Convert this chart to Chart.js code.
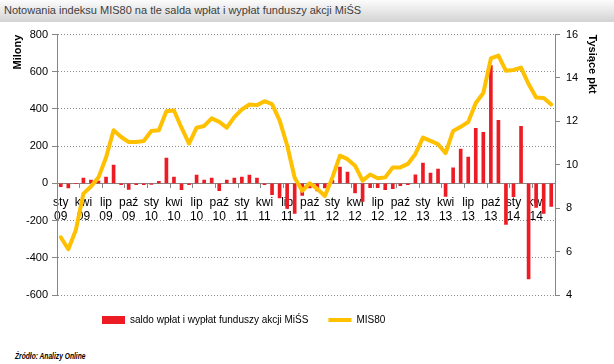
<!DOCTYPE html>
<html>
<head>
<meta charset="utf-8">
<script src="https://cdn.jsdelivr.net/npm/chart.js@4"></script>
<style>
  body { margin: 0; width: 614px; height: 364px; background: #fff; overflow: hidden; position: relative; font-family: "Liberation Sans", Arial, sans-serif; }
  #title { position: absolute; left: 0; top: 0; width: 614px; height: 22px; box-sizing: border-box; padding-left: 4px; background: linear-gradient(#fcfcfc, #d3d3d3); color: #404040; font-size: 11px; line-height: 21px; }
  #chart-box { position: absolute; left: 0; top: 22px; width: 614px; height: 313px; }
  #source { position: absolute; left: 15px; top: 351px; font-size: 9px; font-weight: bold; font-style: italic; transform: scaleX(0.74); transform-origin: left top; white-space: nowrap; }
</style>
</head>
<body>
<div id="title">Notowania indeksu MIS80 na tle salda wpłat i wypłat funduszy akcji MiŚS</div>
<div id="chart-box"><canvas id="chart"></canvas></div>
<div id="source">Źródło: Analizy Online</div>
<script>
// months sty 09 .. cze 14
const monthNames = ['sty', 'lut', 'mar', 'kwi', 'maj', 'cze', 'lip', 'sie', 'wrz', 'paź', 'lis', 'gru'];
const years = ['09', '10', '11', '12', '13', '14'];
const categories = [];
for (let i = 0; i < 66; i++) {
    categories.push(monthNames[i % 12] + ' ' + years[Math.floor(i / 12)]);
}

// saldo wpłat i wypłat (mln zł), left axis
const saldo = [
    -18, -24, 0, 28, 18, 12, 34, 98, -7, -33,
    -7, -7, -5, 11, 136, 34, -34, -7, 45, 18,
    28, -39, 18, 28, 34, 45, 28, -7, -60, -78,
    -135, -162, -64, -24, -41, -24, 16, 88, 61, -51,
    -97, -23, -23, -34, -28, -12, -7, 46, 109, 56,
    77, -70, 84, 185, 141, 296, 275, 633, 339, -220,
    -72, 307, -513, -129, -161, -124
];

// MIS80 (tys. pkt), right axis
const mis80 = [
    6.66, 6.11, 7.0, 8.67, 9.0, 9.42, 10.34, 11.59, 11.28, 11.05,
    11.05, 11.1, 11.56, 11.59, 12.47, 12.5, 11.71, 10.98, 11.71, 11.79,
    12.14, 11.98, 11.71, 12.2, 12.55, 12.78, 12.75, 12.93, 12.8, 12.05,
    10.9, 9.4, 8.8, 9.15, 8.89, 8.56, 9.42, 10.42, 10.26, 9.96,
    9.27, 9.55, 9.38, 9.42, 9.88, 9.88, 10.04, 10.5, 11.25, 11.1,
    10.95, 10.54, 11.56, 11.75, 11.97, 12.85, 13.31, 14.9, 15.03, 14.33,
    14.37, 14.48, 13.72, 13.1, 13.08, 12.78
];

const axisGray = '#868686';
const legendStart = 102;
const legendPadding = 20;

// move the legend row to where the original has it
const legendShift = {
    id: 'legendShift',
    afterLayout(chart) {
        chart.legend.left = legendStart - legendPadding;
    }
};

const ctx = document.getElementById('chart').getContext('2d');

const chart = new Chart(ctx, {
    type: 'bar',
    data: {
        labels: categories,
        datasets: [{
            type: 'bar',
            label: 'saldo wpłat i wypłat funduszy akcji MiŚS',
            data: saldo,
            backgroundColor: '#ED1C24',
            barThickness: 3,
            yAxisID: 'y',
            order: 1,
            pointStyle: 'rect'
        }, {
            type: 'line',
            label: 'MIS80',
            data: mis80,
            borderColor: '#FFC000',
            backgroundColor: '#FFC000',
            borderWidth: 4,
            pointRadius: 0,
            tension: 0,
            borderJoinStyle: 'round',
            borderCapStyle: 'round',
            yAxisID: 'y1',
            order: 0,
            pointStyle: 'line'
        }]
    },
    options: {
        responsive: true,
        maintainAspectRatio: false,
        animation: false,
        layout: { padding: { top: 11, left: 0, right: 0, bottom: 0 } },
        plugins: {
            legend: {
                position: 'bottom',
                align: 'start',
                labels: {
                    usePointStyle: true,
                    pointStyleWidth: 23,
                    boxHeight: 8,
                    padding: legendPadding,
                    color: '#000',
                    font: { family: 'Liberation Sans', size: 10 },
                    sort: (a, b) => a.datasetIndex - b.datasetIndex
                }
            },
            tooltip: { enabled: false }
        },
        scales: {
            x: {
                position: { y: 0 },
                afterFit: scale => { scale.height = 0; },
                grid: {
                    drawOnChartArea: false,
                    offset: true,
                    tickLength: 4,
                    tickColor: c => c.index % 3 === 0 ? axisGray : 'rgba(0,0,0,0)'
                },
                border: { color: axisGray, width: 1 },
                ticks: {
                    autoSkip: false,
                    maxRotation: 0,
                    padding: 8,
                    color: '#000',
                    font: { family: 'Liberation Sans', size: 12, lineHeight: 1.2 },
                    callback: (v, i) => i % 3 === 0 ? categories[i].split(' ') : ''
                }
            },
            y: {
                position: 'left',
                min: -600,
                max: 800,
                afterFit: scale => { scale.width = 57; },
                ticks: {
                    stepSize: 200,
                    padding: 4,
                    color: '#000',
                    font: { family: 'Liberation Sans', size: 11 }
                },
                grid: {
                    color: '#8a8a8a',
                    tickLength: 5,
                    tickColor: axisGray,
                    tickBorderDash: []
                },
                border: { color: axisGray, dash: [1, 2] },
                title: {
                    display: true,
                    text: 'Milony',
                    align: 'end',
                    color: '#000',
                    padding: { top: 11, bottom: 0 },
                    font: { family: 'Liberation Sans', size: 11, weight: 'bold' }
                }
            },
            y1: {
                position: 'right',
                min: 4,
                max: 16,
                afterFit: scale => { scale.width = 59; },
                ticks: {
                    stepSize: 2,
                    padding: 6,
                    color: '#000',
                    font: { family: 'Liberation Sans', size: 11 }
                },
                grid: {
                    drawOnChartArea: false,
                    tickLength: 5,
                    tickColor: axisGray
                },
                border: { color: axisGray },
                title: {
                    display: true,
                    text: 'Tysiące pkt',
                    align: 'end',
                    color: '#000',
                    padding: { top: 15, bottom: 0 },
                    font: { family: 'Liberation Sans', size: 11, weight: 'bold' }
                }
            }
        }
    },
    plugins: [legendShift]
});
</script>
</body>
</html>
